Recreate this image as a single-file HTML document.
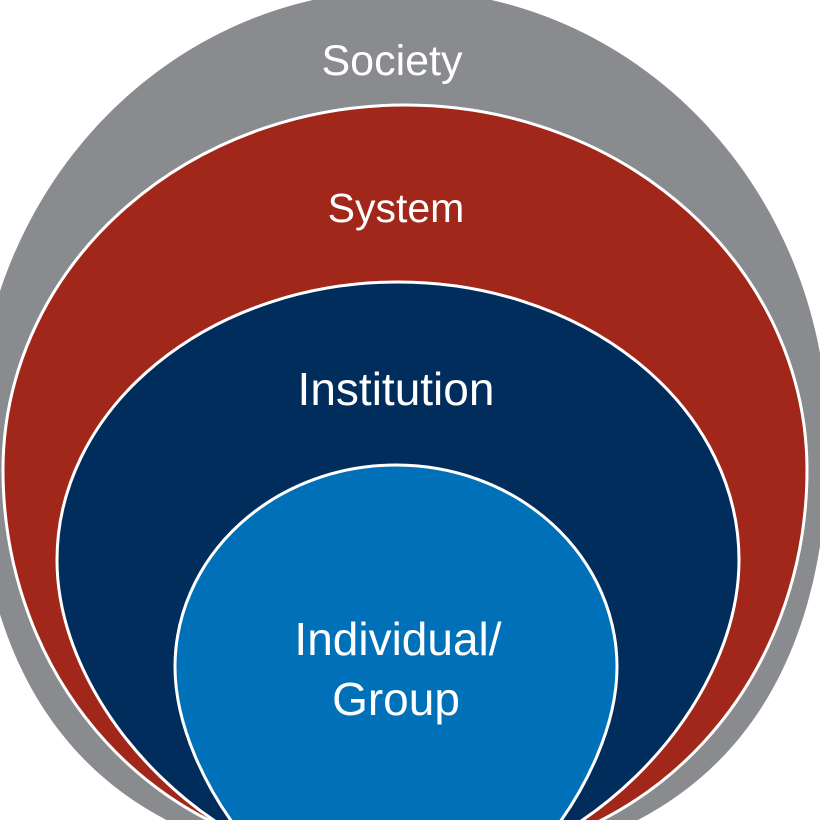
<!DOCTYPE html>
<html><head><meta charset="utf-8"><style>
html,body{margin:0;padding:0;background:#fff;overflow:hidden;width:820px;height:820px;}
svg{display:block;}
text{font-family:"Liberation Sans",sans-serif;fill:#fff;font-size:41px;text-anchor:middle;}
</style></head><body>
<svg width="820" height="820" viewBox="0 0 820 820">
<rect width="820" height="820" fill="#fff"/>
<path d="M -24 440 A 426 450 0 0 1 828 440 C 828 700 700 870 402 870 C 105 870 -24 700 -24 440 Z" fill="#898b8e"/>
<path d="M 3 470 A 402 365 0 0 1 807 470 C 807 670 665 865 405 865 C 145 865 3 670 3 470 Z" fill="#a0271a" stroke="#fff" stroke-width="3"/>
<path d="M 57 560 A 341 278 0 0 1 739 560 C 739 710 578 880 398 880 C 218 880 57 710 57 560 Z" fill="#002d5c" stroke="#fff" stroke-width="3"/>
<path d="M 175 667 A 221 202 0 0 1 617 667 C 617 780 500 930 396 930 C 292 930 175 780 175 667 Z" fill="#0071b8" stroke="#fff" stroke-width="3"/>
<text x="392" y="75" style="font-size:43px">Society</text>
<text x="396" y="222">System</text>
<text x="396" y="405" style="font-size:46px">Institution</text>
<text x="398" y="655" style="font-size:46px">Individual/</text>
<text x="396" y="715" style="font-size:46px">Group</text>
</svg>
</body></html>
